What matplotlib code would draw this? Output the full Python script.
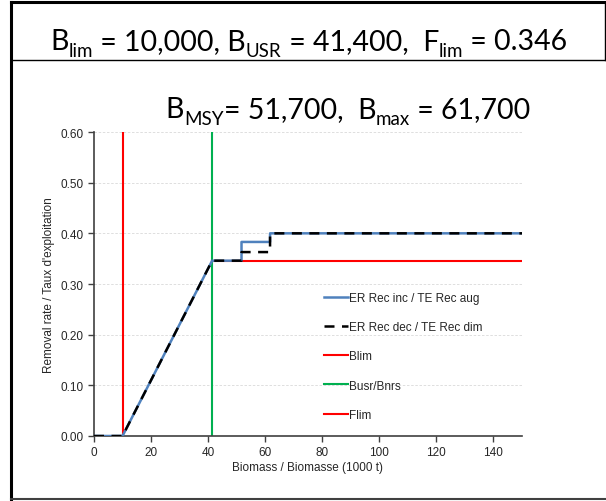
import matplotlib.pyplot as plt
from matplotlib.lines import Line2D

# Reference points (biomass in 1000 t)
b_lim = 10.0
b_usr = 41.4
f_lim = 0.346
x_max = 150

# Harvest control rule: removal rate increase / decrease variants
inc_x = [0, 10, 41.4, 51.7, 51.7, 61.7, 61.7, 150]
inc_y = [0, 0, 0.346, 0.346, 0.383, 0.383, 0.40, 0.40]
dec_x = [0, 10, 41.4, 51.7, 51.7, 61.7, 61.7, 150]
dec_y = [0, 0, 0.346, 0.346, 0.363, 0.363, 0.40, 0.40]

x_ticks = [0, 20, 40, 60, 80, 100, 120, 140]
y_ticks = [0.0, 0.1, 0.2, 0.3, 0.4, 0.5, 0.6]

# title pieces: (text, is_subscript)
title1 = [('B', 0), ('lim', 1), (' = 10,000, B', 0), ('USR', 1), (' = 41,400,  F', 0), ('lim', 1), (' = 0.346', 0)]
title2 = [('B', 0), ('MSY', 1), ('= 51,700,  B', 0), ('max', 1), (' = 61,700', 0)]

plt.rcParams['font.family'] = ['Liberation Sans', 'DejaVu Sans']

fig = plt.figure(figsize=(6.06, 5.02), dpi=100)
W, H = 606, 502

def fx(px):
    return px / W

def fy(py):
    return 1 - py / H

# Frame lines drawn in figure coordinates
fig.add_artist(Line2D([fx(11), fx(11)], [fy(3), fy(501)], color='black', lw=2.2))
fig.add_artist(Line2D([fx(11), fx(605)], [fy(3), fy(3)], color='black', lw=2.2))
fig.add_artist(Line2D([fx(604.5), fx(604.5)], [fy(3), fy(61)], color='black', lw=1))
fig.add_artist(Line2D([fx(11), fx(605)], [fy(61), fy(61)], color='black', lw=1))
fig.add_artist(Line2D([fx(11), fx(606)], [fy(500), fy(500)], color='#404040', lw=1.5))

renderer = fig.canvas.get_renderer()

def draw_line(pieces, cx, base_y, size=20.5, sub_size=13.5, sub_drop=7):
    texts = []
    widths = []
    for s, sub in pieces:
        t = fig.text(0, 0, s.replace(' ', '\u00a0'), fontsize=sub_size if sub else size,
                     family=['Lato', 'DejaVu Sans'], va='baseline', ha='left')
        texts.append((t, sub))
        widths.append(t.get_window_extent(renderer).width)
    x = cx - sum(widths) / 2
    for (t, sub), w in zip(texts, widths):
        y = base_y + (sub_drop if sub else 0)
        t.set_position((fx(x), fy(y)))
        x += w

draw_line(title1, 309, 50)
draw_line(title2, 348, 118)

ax = fig.add_axes([fx(94), fy(437), fx(522 - 94), (437 - 133) / H])

ax.plot(inc_x, inc_y, color='#4f81bd', lw=1.8, label='ER Rec inc / TE Rec aug', zorder=3)
ax.plot(dec_x, dec_y, color='black', lw=1.8, ls=(0, (4, 3)), label='ER Rec dec / TE Rec dim', zorder=4)
ax.axvline(b_lim, color='#ff0000', lw=1.5, label='Blim', zorder=2)
ax.axvline(b_usr, color='#00b050', lw=1.5, label='Busr/Bnrs', zorder=2)
ax.plot([b_usr, x_max], [f_lim, f_lim], color='#ff0000', lw=1.5, label='Flim', zorder=2)

ax.set_xlim(0, x_max)
ax.set_ylim(0, 0.6)
ax.set_xticks(x_ticks)
ax.set_yticks(y_ticks)
ax.set_yticklabels(['%.2f' % v for v in y_ticks])
ax.grid(axis='y', color='#d9d9d9', ls=(0, (3, 2)), lw=0.6)
ax.set_axisbelow(True)
for s in ['top', 'right']:
    ax.spines[s].set_visible(False)
for s in ['left', 'bottom']:
    ax.spines[s].set_color('#404040')
    ax.spines[s].set_linewidth(1.2)
ax.tick_params(colors='#404040', labelcolor='#262626', labelsize=8.5, length=4, width=1)

ax.set_xlabel('Biomass / Biomasse (1000 t)', fontsize=8.5, color='#262626', labelpad=2)
ax.set_ylabel("Removal rate / Taux d'exploitation", fontsize=8.5, color='#262626', labelpad=4)

ax.legend(loc='upper left', bbox_to_anchor=(0.513, 0.508), frameon=False, fontsize=8.5,
          labelspacing=1.45, handlelength=2.0, handletextpad=0.1, labelcolor='#262626')

fig.savefig('out.png', dpi=100)
